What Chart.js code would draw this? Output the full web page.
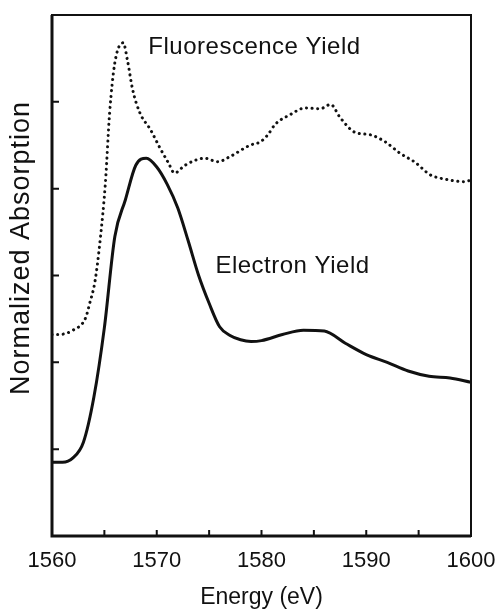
<!DOCTYPE html>
<html>
<head>
<meta charset="utf-8">
<script src="https://cdn.jsdelivr.net/npm/chart.js@4.4.1/dist/chart.umd.min.js"></script>
<style>
  body { margin: 0; background: #fff; }
  #wrap { width: 501px; height: 613px; }
</style>
</head>
<body>
<div id="wrap"><canvas id="myChart" width="501" height="613"></canvas></div>
<script>
// values (energy in eV, normalized absorption)
const electronEnergy = [1560, 1561, 1562, 1563, 1564, 1565, 1566, 1567, 1568, 1569, 1570, 1571, 1572, 1573, 1574, 1575, 1576, 1577, 1578, 1579, 1580, 1582, 1584, 1586, 1588, 1590, 1592, 1594, 1596, 1598, 1600];
const electronYield = [0.85, 0.85, 0.9, 1.08, 1.6, 2.4, 3.45, 3.87, 4.27, 4.35, 4.25, 4.05, 3.78, 3.4, 3.0, 2.68, 2.41, 2.31, 2.26, 2.24, 2.25, 2.32, 2.37, 2.36, 2.22, 2.09, 2.0, 1.9, 1.84, 1.82, 1.77];

const fluorEnergy = [1560, 1560.6, 1562, 1563.2, 1563.6, 1564.1, 1564.6, 1565.1, 1565.5, 1566, 1566.8, 1567.2, 1567.7, 1568.4, 1569.4, 1570.3, 1571.1, 1571.7, 1572.7, 1574.6, 1575.8, 1577, 1578.9, 1579.9, 1580.6, 1581.3, 1582.7, 1584.2, 1585.6, 1586.6, 1587.5, 1588.9, 1590.4, 1591.8, 1593.2, 1594.7, 1596.1, 1597.5, 1599.4, 1600];
const fluorYield = [2.32, 2.32, 2.37, 2.51, 2.68, 2.93, 3.41, 4.07, 4.87, 5.45, 5.68, 5.48, 5.14, 4.87, 4.68, 4.47, 4.30, 4.18, 4.27, 4.35, 4.31, 4.37, 4.50, 4.54, 4.62, 4.74, 4.85, 4.93, 4.92, 4.97, 4.82, 4.65, 4.62, 4.54, 4.41, 4.30, 4.16, 4.11, 4.08, 4.10];

const xTickValues = [1560, 1565, 1570, 1575, 1580, 1585, 1590, 1595, 1600];
const yTickValues = [0, 1, 2, 3, 4, 5, 6];

const curveLabels = [
  { text: "Fluorescence Yield", x: 1569.2, y: 5.63 },
  { text: "Electron Yield", x: 1575.6, y: 3.11 }
];
const yTitle = "Normalized Absorption";

const FONT = "'Liberation Sans', Arial, Helvetica, sans-serif";

const toPoints = (xs, ys) => xs.map((x, i) => ({ x, y: ys[i] }));

// frame, inward ticks, y title and the two curve labels
const decor = {
  id: "decor",
  afterDraw(chart) {
    const { ctx, chartArea: a, scales } = chart;
    const xs = scales.x, ys = scales.y;
    ctx.save();
    ctx.strokeStyle = "#111";
    ctx.lineWidth = 2;
    ctx.strokeRect(a.left, a.top, a.right - a.left, a.bottom - a.top);
    ctx.lineWidth = 3;
    ctx.beginPath();
    ctx.moveTo(a.left, a.top);
    ctx.lineTo(a.left, a.bottom);
    ctx.lineTo(a.right, a.bottom);
    ctx.stroke();

    ctx.lineWidth = 2;
    ctx.beginPath();
    xTickValues.forEach((v) => {
      const px = xs.getPixelForValue(v);
      ctx.moveTo(px, a.bottom);
      ctx.lineTo(px, a.bottom - 6);
    });
    yTickValues.forEach((v) => {
      const py = ys.getPixelForValue(v);
      ctx.moveTo(a.left, py);
      ctx.lineTo(a.left + 7, py);
    });
    ctx.stroke();

    ctx.fillStyle = "#111";
    ctx.font = "24px " + FONT;
    ctx.textBaseline = "middle";
    ctx.textAlign = "left";
    if ("letterSpacing" in ctx) ctx.letterSpacing = "0.5px";
    curveLabels.forEach((l) => {
      ctx.fillText(l.text, xs.getPixelForValue(l.x), ys.getPixelForValue(l.y));
    });

    ctx.translate(22, 248);
    ctx.rotate(-Math.PI / 2);
    ctx.textAlign = "center";
    ctx.font = "27px " + FONT;
    if ("letterSpacing" in ctx) ctx.letterSpacing = "1px";
    ctx.fillText(yTitle, 0, 0);
    ctx.restore();
  }
};

const config = {
  type: "line",
  data: {
    datasets: [
      {
        label: "Fluorescence Yield",
        data: toPoints(fluorEnergy, fluorYield),
        borderColor: "#111",
        borderWidth: 3,
        borderDash: [0.1, 5.5],
        borderCapStyle: "round",
        cubicInterpolationMode: "monotone",
        pointRadius: 0,
        fill: false
      },
      {
        label: "Electron Yield",
        data: toPoints(electronEnergy, electronYield),
        borderColor: "#111",
        borderWidth: 3,
        cubicInterpolationMode: "monotone",
        pointRadius: 0,
        fill: false
      }
    ]
  },
  options: {
    responsive: false,
    animation: false,
    events: [],
    layout: { padding: { left: 52, right: 30, top: 15, bottom: 0 } },
    plugins: { legend: { display: false }, tooltip: { enabled: false } },
    scales: {
      x: {
        type: "linear",
        min: 1560,
        max: 1600,
        grid: { display: false, drawTicks: false },
        border: { display: false },
        afterFit: (s) => {
          s.paddingLeft = 0;
          s.paddingRight = 0;
        },
        ticks: {
          stepSize: 10,
          padding: 14,
          color: "#111",
          font: { family: FONT, size: 22, lineHeight: 1 },
          callback: (v) => String(v)
        },
        title: {
          display: true,
          text: "Energy (eV)",
          color: "#111",
          font: { family: FONT, size: 23, lineHeight: 1 },
          padding: { top: 0, bottom: 4 }
        }
      },
      y: {
        display: false,
        min: 0,
        max: 6
      }
    }
  },
  plugins: [decor]
};

new Chart(document.getElementById("myChart"), config);
</script>
</body>
</html>
